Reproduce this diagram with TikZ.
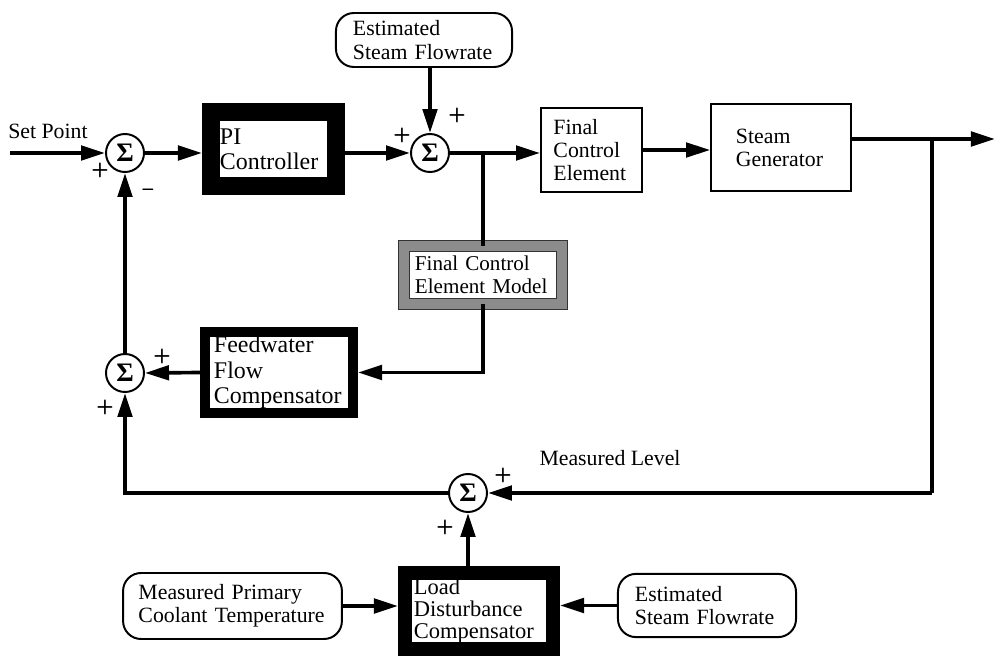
\documentclass[tikz,border=0pt]{standalone}
\usepackage{fontspec}
\setmainfont{Liberation Serif}
\usetikzlibrary{arrows.meta, positioning, calc}

\newcommand{\lblfont}{\fontsize{15.5}{16.5}\selectfont}
\newcommand{\heavyfont}{\fontsize{17}{18}\selectfont}

\begin{document}
\begin{tikzpicture}[x=0.025cm, y=-0.025cm,
  sig/.style={line width=2.6pt, -{Triangle[length=0.6cm, width=0.36cm]}},
  wire/.style={line width=2.6pt},
  plainbox/.style={draw, line width=1.2pt, align=left, font=\lblfont, inner sep=0pt},
  heavybox/.style={draw, line width=0.25cm, align=left, font=\heavyfont, inner sep=0pt},
  shadedbox/.style={draw=black!80, line width=0.6pt, double=black!45, double distance=0.26cm, align=left, font=\lblfont, inner sep=0pt},
  srcbox/.style={draw, line width=1.4pt, rounded corners=0.45cm, align=left, font=\lblfont, inner sep=0pt},
  sumnode/.style={circle, draw, line width=1.4pt, minimum size=0.95cm, inner sep=0pt, font=\fontsize{19}{19}\selectfont\bfseries},
  sgn/.style={font=\sffamily\bfseries\Large, inner sep=0pt},
  lbl/.style={font=\lblfont, inner sep=0pt}
]
  \useasboundingbox (0,0) rectangle (996,656);

  % Forward path
  \node[lbl, anchor=west] (setpt) at (8,131) {Set Point};
  \coordinate (spin) at (10,153);
  \node[sumnode] (s1) at (125,153) {Σ};
  \node[heavybox, line width=0.45cm, minimum width=3.125cm, minimum height=1.85cm, text width=2.675cm] (pi) at (273.5,149) {PI\\Controller};
  \node[sumnode] (s2) at (430,153) {Σ};
  \node[srcbox, minimum width=4.4cm, minimum height=1.35cm, text width=3.55cm] (est1) at (424,40) {Estimated\\Steam Flowrate};
  \coordinate (j1) at (483,153);
  \node[plainbox, minimum width=2.53cm, minimum height=2.1cm, text width=1.9cm] (fce) at (591.5,150) {Final\\Control\\Element};
  \node[plainbox, minimum width=3.5cm, minimum height=2.17cm, text width=2.25cm] (sg) at (781,147.5) {Steam\\Generator};
  \coordinate (tap) at (932,139);
  \coordinate (outend) at (995,139);

  % Feedwater compensation
  \node[shadedbox, minimum width=3.95cm, minimum height=1.45cm, text width=3.4cm, font=\fontsize{15}{16.5}\selectfont] (fcem) at (483,275) {Final Control\\Element Model};
  \node[heavybox, minimum width=3.7cm, minimum height=2.03cm, text width=3.25cm] (fwfc) at (279,372.5) {Feedwater\\Flow\\Compensator};
  \node[sumnode] (s4) at (125,373) {Σ};

  % Level measurement and load disturbance
  \node[sumnode] (s3) at (468,493) {Σ};
  \coordinate (lvl) at (932,493);
  \node[lbl] (mlevel) at (610,458) {Measured Level};
  \node[heavybox, line width=0.36cm, minimum width=3.69cm, minimum height=1.89cm, text width=3.25cm, font=\fontsize{16}{15.5}\selectfont] (ldc) at (479,611) {Load\\Disturbance\\Compensator};
  \node[srcbox, minimum width=5.47cm, minimum height=1.65cm, text width=4.7cm] (mpct) at (232.5,606) {Measured Primary\\Coolant Temperature};
  \node[srcbox, minimum width=4.45cm, minimum height=1.58cm, text width=3.6cm] (est2) at (707,605.5) {Estimated\\Steam Flowrate};

  % Signs
  \node[sgn] (p1) at (100,170) {+};
  \node[sgn] (m1) at (148,192) {\textendash};
  \node[sgn] (p2a) at (402,135) {+};
  \node[sgn] (p2b) at (457,115) {+};
  \node[sgn] (p4a) at (162,356) {+};
  \node[sgn] (p4b) at (105,407) {+};
  \node[sgn] (p3a) at (503,475) {+};
  \node[sgn] (p3b) at (445,527) {+};

  % Connectors
  \draw[sig] (spin) -- (s1.west);
  \draw[sig] (s1.east) -- (s1.east -| pi.west);
  \draw[sig] (pi.east |- s2.west) -- (s2.west);
  \draw[sig] (s2.north |- est1.south) -- (s2.north);
  \draw[wire] (s2.east) -- (j1);
  \draw[sig] (j1) -- (j1 -| fce.west);
  \draw[sig] (fce.east) -- (fce.east -| sg.west);
  \draw[sig] (sg.east |- tap) -- (outend);
  \draw[wire] (tap) -- (lvl);
  \draw[sig] (lvl) -- (s3.east);
  \draw[sig] (s3.west) -| (s4.south);
  \draw[sig] (s4.north) -- (s1.south);
  \draw[wire] (j1) -- (fcem.north);
  \draw[sig] (fcem.south) |- (fwfc.east);
  \draw[sig] (fwfc.west) -- (s4.east);
  \draw[sig] (s3.south |- ldc.north) -- (s3.south);
  \draw[sig] (mpct.east) -- (mpct.east -| ldc.west);
  \draw[sig] (est2.west) -- (est2.west -| ldc.east);
\end{tikzpicture}
\end{document}
